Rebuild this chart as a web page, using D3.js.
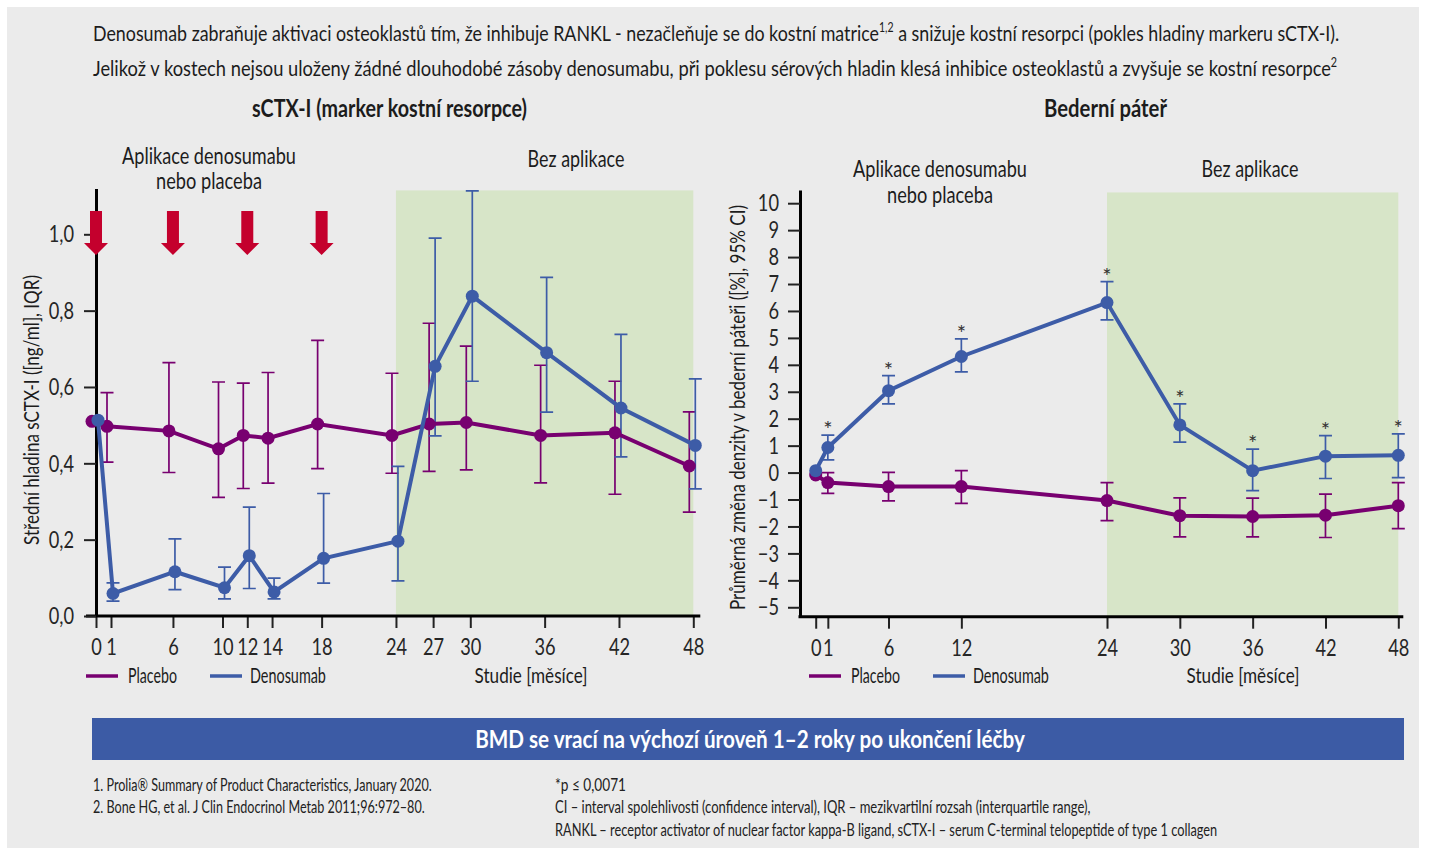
<!DOCTYPE html>
<html>
<head>
<meta charset="utf-8">
<script src="https://cdn.jsdelivr.net/npm/d3@7"></script>
<style>
  body { margin: 0; background: #fff; }
  svg { display: block; font-family: Lato, "Open Sans", sans-serif; }
</style>
</head>
<body>
<div id="chart"></div>
<script>
// sCTX-I (left panel), months and median values with IQR
var sctxMonths = [0, 1, 6, 10, 12, 14, 18, 24, 27, 30, 36, 42, 48];
var sctxPlacebo   = [0.510, 0.497, 0.485, 0.438, 0.473, 0.466, 0.503, 0.473, 0.503, 0.507, 0.473, 0.480, 0.393];
var sctxPlaceboLo = [null, 0.403, 0.376, 0.311, 0.334, 0.348, 0.386, 0.374, 0.379, 0.383, 0.349, 0.319, 0.272];
var sctxPlaceboHi = [null, 0.585, 0.664, 0.613, 0.610, 0.638, 0.722, 0.636, 0.767, 0.707, 0.657, 0.615, 0.535];
var sctxDenos     = [0.513, 0.059, 0.116, 0.074, 0.158, 0.063, 0.151, 0.196, 0.654, 0.838, 0.690, 0.545, 0.447];
var sctxDenosLo   = [null, 0.039, 0.069, 0.045, 0.072, 0.045, 0.086, 0.092, 0.472, 0.615, 0.534, 0.417, 0.333];
var sctxDenosHi   = [null, 0.087, 0.202, 0.128, 0.285, 0.099, 0.321, 0.392, 0.990, 1.114, 0.887, 0.738, 0.621];
var sctxTicksY = [0, 0.2, 0.4, 0.6, 0.8, 1.0];
var doseMonths = [0, 6, 12, 18];

// lumbar spine BMD (right panel), mean % change with 95% CI
var bmdMonths = [0, 1, 6, 12, 24, 30, 36, 42, 48];
var bmdPlacebo   = [-0.09, -0.37, -0.52, -0.52, -1.04, -1.60, -1.63, -1.58, -1.23];
var bmdPlaceboLo = [null, -0.77, -1.05, -1.14, -1.78, -2.39, -2.39, -2.41, -2.08];
var bmdPlaceboHi = [null, 0.00, 0.01, 0.07, -0.37, -0.94, -0.95, -0.80, -0.37];
var bmdDenos     = [0.07, 0.93, 3.04, 4.31, 6.31, 1.77, 0.07, 0.61, 0.64];
var bmdDenosLo   = [null, 0.47, 2.55, 3.74, 5.67, 1.13, -0.67, -0.22, -0.19];
var bmdDenosHi   = [null, 1.39, 3.60, 4.96, 7.09, 2.55, 0.87, 1.37, 1.44];
var bmdStar      = [false, true, true, true, true, true, true, true, true];
var bmdTicksY = [-5, -4, -3, -2, -1, 0, 1, 2, 3, 4, 5, 6, 7, 8, 9, 10];

var header1 = ["Denosumab zabraňuje aktivaci osteoklastů tím, že inhibuje RANKL - nezačleňuje se do kostní matrice", "1,2",
               " a snižuje kostní resorpci (pokles hladiny markeru sCTX-I)."];
var header2 = ["Jelikož v kostech nejsou uloženy žádné dlouhodobé zásoby denosumabu, při poklesu sérových hladin klesá inhibice osteoklastů a zvyšuje se kostní resorpce", "2"];

var W = 1434, H = 848;
var SQ = 0.76;
var purple = "#780070", blue = "#3d5ca7", red = "#c4002d", green = "#d7e5c8", ink = "#1c1c1c";

function draw() {
  var svg = d3.select("#chart").append("svg").attr("width", W).attr("height", H);
  svg.append("rect").attr("x", 7).attr("y", 7).attr("width", 1412).attr("height", 841).attr("fill", "#ebebeb");

  // squeeze text horizontally to get the condensed look, or to a given width
  function fit(t, x, y, width, rot) {
    var w = t.node().getComputedTextLength();
    var k = width ? width / w : SQ;
    t.attr("transform", "translate(" + x + "," + y + ")" + (rot ? " rotate(-90)" : "") + " scale(" + k + ",1)");
    return t;
  }
  function label(str, x, y, o) {
    o = o || {};
    var t = svg.append("text")
      .attr("font-size", o.size || 23)
      .attr("font-weight", o.bold ? 700 : 400)
      .attr("text-anchor", o.anchor || "start")
      .attr("fill", o.fill || ink)
      .text(str);
    return fit(t, x, y, o.width, o.rot);
  }

  // header
  var h1 = svg.append("text").attr("font-size", 22).attr("fill", ink);
  h1.append("tspan").text(header1[0]);
  h1.append("tspan").attr("font-size", 13).attr("dy", -9).text(header1[1]);
  h1.append("tspan").attr("dy", 9).text(header1[2]);
  fit(h1, 93, 41, 1247);
  var h2 = svg.append("text").attr("font-size", 22).attr("fill", ink);
  h2.append("tspan").text(header2[0]);
  h2.append("tspan").attr("font-size", 13).attr("dy", -9).text(header2[1]);
  fit(h2, 93, 76, 1245);

  label("sCTX-I (marker kostní resorpce)", 389.5, 117, {bold: true, size: 24, anchor: "middle", width: 275});
  label("Bederní páteř", 1105.5, 117, {bold: true, size: 24, anchor: "middle", width: 123});

  function styleAxis(g, isLeft) {
    g.attr("font-family", null).attr("font-size", 24);
    g.selectAll(".tick line").attr("stroke", "#222").attr("stroke-width", 2);
    g.selectAll(".tick text").attr("fill", "#262626").each(function() {
      var t = d3.select(this);
      if (isLeft) t.attr("x", +t.attr("x") / SQ);
      t.attr("transform", "scale(" + SQ + ",1)");
    });
  }

  function errorBars(g, months, lo, hi, x, y, dx, color) {
    var pts = months.map(function(m, i) { return {m: m, lo: lo[i], hi: hi[i]}; })
      .filter(function(d) { return d.lo != null; });
    g.selectAll(null).data(pts).join("path")
      .attr("d", function(d) {
        var cx = x(d.m) + dx, y1 = y(d.lo), y2 = y(d.hi);
        return "M" + cx + "," + y1 + "V" + y2 + "M" + (cx - 6.5) + "," + y1 + "h13M" + (cx - 6.5) + "," + y2 + "h13";
      })
      .attr("fill", "none").attr("stroke", color).attr("stroke-width", 1.7);
  }

  function series(g, months, vals, x, y, dx, color) {
    var pts = months.map(function(m, i) { return {m: m, v: vals[i]}; });
    g.append("path").datum(pts)
      .attr("d", d3.line().x(function(d) { return x(d.m) + dx; }).y(function(d) { return y(d.v); }))
      .attr("fill", "none").attr("stroke", color).attr("stroke-width", 4);
    g.selectAll(null).data(pts).join("circle")
      .attr("cx", function(d) { return x(d.m) + dx; })
      .attr("cy", function(d) { return y(d.v); })
      .attr("r", 6.5).attr("fill", color);
  }

  function legend(x0, xText) {
    svg.append("line").attr("x1", x0).attr("x2", x0 + 32).attr("y1", 676).attr("y2", 676)
      .attr("stroke", purple).attr("stroke-width", 3.5);
    label("Placebo", x0 + 42, 683, {width: 49, size: 22});
    svg.append("line").attr("x1", x0 + 124).attr("x2", x0 + 156).attr("y1", 676).attr("y2", 676)
      .attr("stroke", blue).attr("stroke-width", 3.5);
    label("Denosumab", x0 + 164, 683, {width: 76, size: 22});
    label("Studie [měsíce]", xText, 683, {anchor: "middle", width: 113, size: 22});
  }

  // ---------- left panel: sCTX-I ----------
  var xL = d3.scaleLinear().domain([0, 1, 48]).range([96, 111, 693.3]);
  var yL = d3.scaleLinear().domain([0, 1.12]).range([616, 188.5]);

  svg.append("rect")
    .attr("x", xL(24)).attr("width", xL(48) - xL(24))
    .attr("y", yL(1.115)).attr("height", yL(0) - yL(1.115))
    .attr("fill", green);

  var gxL = svg.append("g").attr("transform", "translate(0," + yL(0) + ")")
    .call(d3.axisBottom(xL).tickValues(sctxMonths).tickSize(12).tickPadding(10).tickSizeOuter(0));
  gxL.select(".domain").remove();
  styleAxis(gxL, false);
  svg.append("line").attr("x1", xL(0) - 10).attr("x2", xL(48) + 7).attr("y1", yL(0)).attr("y2", yL(0))
    .attr("stroke", "#000").attr("stroke-width", 3);

  var gyL = svg.append("g").attr("transform", "translate(" + xL(0) + ",0)")
    .call(d3.axisLeft(yL).tickValues(sctxTicksY).tickSize(12).tickPadding(10).tickSizeOuter(0)
      .tickFormat(function(d) { return d3.format(".1f")(d).replace(".", ","); }));
  gyL.select(".domain").attr("stroke", "#000").attr("stroke-width", 3);
  styleAxis(gyL, true);

  var pL = svg.append("g");
  errorBars(pL, sctxMonths, sctxPlaceboLo, sctxPlaceboHi, xL, yL, -4, purple);
  errorBars(pL, sctxMonths, sctxDenosLo, sctxDenosHi, xL, yL, 2, blue);
  series(pL, sctxMonths, sctxPlacebo, xL, yL, -4, purple);
  series(pL, sctxMonths, sctxDenos, xL, yL, 2, blue);

  // dosing arrows
  svg.append("g").selectAll("path").data(doseMonths).join("path")
    .attr("d", function(m) {
      var cx = xL(m);
      return "M" + (cx - 6) + ",211h12v32h6l-12,12l-12,-12h6z";
    })
    .attr("fill", red);

  label("Aplikace denosumabu", 209, 164, {anchor: "middle", width: 174});
  label("nebo placeba", 209, 189, {anchor: "middle", width: 106});
  label("Bez aplikace", 576, 167, {anchor: "middle", width: 97});
  label("Střední hladina sCTX-I ([ng/ml], IQR)", 39, 410, {anchor: "middle", width: 270, rot: true, size: 21});
  legend(86, 531);

  // ---------- right panel: BMD ----------
  var xR = d3.scaleLinear().domain([0, 48]).range([815.7, 1398.3]);
  var yR = d3.scaleLinear().domain([-5.35, 10.49]).range([616.7, 190]);
  var axisR = 800;

  svg.append("rect")
    .attr("x", xR(24)).attr("width", xR(48) - xR(24))
    .attr("y", yR(10.4)).attr("height", yR(-5.35) - yR(10.4))
    .attr("fill", green);

  var gxR = svg.append("g").attr("transform", "translate(0," + yR(-5.35) + ")")
    .call(d3.axisBottom(xR).tickValues(bmdMonths).tickSize(12).tickPadding(10).tickSizeOuter(0));
  gxR.select(".domain").remove();
  styleAxis(gxR, false);
  svg.append("line").attr("x1", axisR - 1.5).attr("x2", xR(48) + 5).attr("y1", yR(-5.35)).attr("y2", yR(-5.35))
    .attr("stroke", "#000").attr("stroke-width", 3);

  var gyR = svg.append("g").attr("transform", "translate(" + axisR + ",0)")
    .call(d3.axisLeft(yR).tickValues(bmdTicksY).tickSize(12).tickPadding(9).tickSizeOuter(0));
  gyR.select(".domain").attr("stroke", "#000").attr("stroke-width", 3);
  styleAxis(gyR, true);

  var pR = svg.append("g");
  errorBars(pR, bmdMonths, bmdPlaceboLo, bmdPlaceboHi, xR, yR, 0, purple);
  errorBars(pR, bmdMonths, bmdDenosLo, bmdDenosHi, xR, yR, 0, blue);
  series(pR, bmdMonths, bmdPlacebo, xR, yR, 0, purple);
  series(pR, bmdMonths, bmdDenos, xR, yR, 0, blue);

  pR.selectAll(null).data(bmdMonths.filter(function(m, i) { return bmdStar[i]; })).join("text")
    .attr("x", function(m) { return xR(m); })
    .attr("y", function(m) { return yR(bmdDenosHi[bmdMonths.indexOf(m)]) + 2; })
    .attr("text-anchor", "middle").attr("font-size", 22).attr("fill", "#333")
    .text("*");

  label("Aplikace denosumabu", 940, 177, {anchor: "middle", width: 174});
  label("nebo placeba", 940, 203, {anchor: "middle", width: 106});
  label("Bez aplikace", 1250, 177, {anchor: "middle", width: 97});
  label("Průměrná změna denzity v bederní páteři ([%], 95% CI)", 745, 407.5, {anchor: "middle", width: 405, rot: true, size: 21});
  legend(809, 1243);

  // ---------- banner and footnotes ----------
  svg.append("rect").attr("x", 92).attr("y", 718).attr("width", 1312).attr("height", 42).attr("fill", "#3c5ba5");
  label("BMD se vrací na výchozí úroveň 1–2 roky po ukončení léčby", 750, 748,
    {anchor: "middle", bold: true, size: 24, width: 550, fill: "#fff"});

  label("1. Prolia® Summary of Product Characteristics, January 2020.", 93, 791, {size: 17, width: 339, fill: "#222"});
  label("2. Bone HG, et al. J Clin Endocrinol Metab 2011;96:972–80.", 93, 813, {size: 17, width: 332, fill: "#222"});
  label("*p ≤ 0,0071", 555, 791, {size: 17, width: 71, fill: "#222"});
  label("CI – interval spolehlivosti (confidence interval), IQR – mezikvartilní rozsah (interquartile range),", 555, 813,
    {size: 17, width: 536, fill: "#222"});
  label("RANKL – receptor activator of nuclear factor kappa-B ligand, sCTX-I – serum C-terminal telopeptide of type 1 collagen", 555, 836,
    {size: 17, width: 663, fill: "#222"});
}

if (document.fonts && document.fonts.ready) document.fonts.ready.then(draw); else draw();
</script>
</body>
</html>
